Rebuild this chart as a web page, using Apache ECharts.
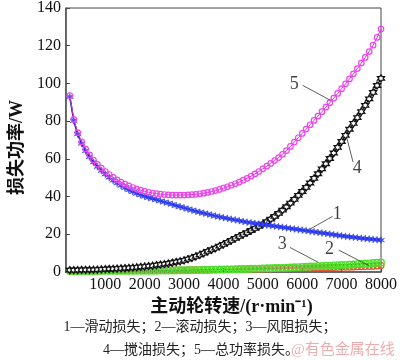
<!DOCTYPE html>
<html>
<head>
<meta charset="utf-8">
<script src="https://cdn.jsdelivr.net/npm/echarts@6/dist/echarts.min.js"></script>
<style>html,body{margin:0;padding:0;background:#fff;}#c{width:400px;height:361px;}</style>
</head>
<body>
<div id="c"></div>
<script>
// Rotational speed of driving wheel (r/min)
const speed = [100,200,300,400,500,600,700,800,900,1000,
  1100,1200,1300,1400,1500,1600,1700,1800,1900,2000,
  2100,2200,2300,2400,2500,2600,2700,2800,2900,3000,
  3100,3200,3300,3400,3500,3600,3700,3800,3900,4000,
  4100,4200,4300,4400,4500,4600,4700,4800,4900,5000,
  5100,5200,5300,5400,5500,5600,5700,5800,5900,6000,
  6100,6200,6300,6400,6500,6600,6700,6800,6900,7000,
  7100,7200,7300,7400,7500,7600,7700,7800,7900,8000];

// 1 — sliding loss
const slidingLoss = [92.9,80.2,73.1,68.1,64.2,61.0,58.2,55.8,53.7,51.8,
  50.1,48.5,47.1,45.8,44.6,43.5,42.5,41.6,40.8,40.1,
  39.4,38.9,38.3,37.7,37.1,36.5,35.9,35.2,34.6,34.0,
  33.4,32.8,32.2,31.7,31.2,30.7,30.2,29.7,29.2,28.8,
  28.4,28.0,27.6,27.2,26.8,26.4,26.1,25.8,25.5,25.2,
  24.9,24.6,24.3,24.0,23.7,23.4,23.1,22.8,22.5,22.2,
  21.9,21.6,21.3,21.0,20.7,20.4,20.1,19.8,19.5,19.2,
  18.9,18.7,18.4,18.2,17.9,17.7,17.5,17.3,17.1,16.9];

// 2 — rolling loss
const rollingLoss = [0.4,0.4,0.5,0.5,0.5,0.5,0.5,0.6,0.6,0.6,
  0.6,0.6,0.7,0.7,0.7,0.7,0.7,0.8,0.8,0.8,
  0.8,0.8,0.9,0.9,0.9,0.9,1.0,1.0,1.0,1.0,
  1.1,1.1,1.1,1.2,1.2,1.2,1.2,1.3,1.3,1.3,
  1.4,1.4,1.4,1.5,1.5,1.5,1.6,1.6,1.6,1.7,
  1.7,1.7,1.8,1.8,1.8,1.9,1.9,2.0,2.0,2.0,
  2.1,2.1,2.2,2.2,2.3,2.3,2.4,2.4,2.5,2.5,
  2.6,2.6,2.7,2.8,2.8,2.9,3.0,3.1,3.2,3.4];

// 3 — windage loss
const windageLoss = [0.5,0.5,0.5,0.5,0.5,0.5,0.5,0.5,0.6,0.6,
  0.6,0.6,0.6,0.6,0.7,0.7,0.7,0.7,0.7,0.7,
  0.7,0.7,0.7,0.8,0.8,0.8,0.8,0.8,0.9,0.9,
  0.9,1.0,1.0,1.0,1.1,1.1,1.2,1.2,1.3,1.3,
  1.4,1.4,1.5,1.5,1.6,1.6,1.7,1.8,1.8,1.9,
  2.0,2.0,2.1,2.2,2.2,2.3,2.4,2.5,2.6,2.7,
  2.8,2.9,3.0,3.1,3.2,3.3,3.4,3.5,3.6,3.7,
  3.8,3.9,4.0,4.2,4.3,4.5,4.6,4.8,4.9,5.1];

// 4 — oil churning loss
const churningLoss = [1.0,1.0,1.0,1.1,1.1,1.2,1.2,1.3,1.4,1.5,
  1.6,1.7,1.8,1.9,2.0,2.2,2.3,2.5,2.7,2.9,
  3.1,3.3,3.6,3.9,4.2,4.5,4.9,5.3,5.7,6.2,
  6.8,7.5,8.3,9.1,10.0,10.9,11.8,12.7,13.7,14.7,
  15.7,16.8,17.8,18.9,19.9,20.9,22.0,23.1,24.2,25.4,
  26.7,28.0,29.5,31.1,32.8,34.6,36.5,38.5,40.6,42.7,
  44.9,47.2,49.6,52.1,54.7,57.4,60.2,63.1,66.1,69.2,
  72.4,75.7,78.8,81.9,85.1,88.4,91.8,95.3,98.9,102.7];

// 5 — total power loss
const totalLoss = [93.6,80.9,73.9,69.0,65.2,62.1,59.4,57.1,55.1,53.3,
  51.7,50.2,48.9,47.7,46.6,45.7,44.8,44.0,43.4,42.8,
  42.3,41.9,41.6,41.3,41.1,40.9,40.8,40.8,40.8,40.8,
  40.9,41.0,41.2,41.5,41.8,42.2,42.7,43.2,43.8,44.5,
  45.2,46.0,46.8,47.7,48.7,49.7,50.8,52.0,53.3,54.7,
  56.1,57.6,59.1,60.7,62.4,64.4,66.6,68.9,71.2,73.5,
  75.8,78.1,80.4,82.7,85.0,87.4,89.8,92.2,94.7,97.2,
  99.8,102.4,105.1,107.9,110.8,113.8,116.9,120.3,124.4,128.8];

// curve number labels and their leader lines (data coordinates)
const annotLabels = ['1','2','3','4','5'];
const annotTextAt = [[6890,30.4],[6690,12.1],[5490,14.7],[7400,54.8],[5800,99.5]];
const annotLineFrom = [[6770,29.5],[6930,11.6],[5690,13.0],[7290,58.3],[6010,99.0]];
const annotLineTo = [[6210,22.9],[7690,3.4],[6410,5.1],[7130,71.3],[6720,91.0]];

const xName = '主动轮转速/(r·min⁻¹)';
const yName = '损失功率/W';
const captionLine1 = '1—滑动损失；2—滚动损失；3—风阻损失；';
const captionLine2 = '4—搅油损失；5—总功率损失。';
const watermark = '@有色金属在线';

const SERIF = '"Liberation Serif","Noto Sans CJK SC",serif';
const pair = arr => speed.map((s, i) => [s, arr[i]]);

const starPath = 'path://M0,-10 L1.5,-2.6 L8.66,-5 L3,0 L8.66,5 L1.5,2.6 L0,10 L-1.5,2.6 L-8.66,5 L-3,0 L-8.66,-5 L-1.5,-2.6 Z';
const hexStarPath = 'path://M0,-10 L2.9,-5 L8.66,-5 L5.8,0 L8.66,5 L2.9,5 L0,10 L-2.9,5 L-8.66,5 L-5.8,0 L-8.66,-5 L-2.9,-5 Z';

const series = [
  { name: '2', type: 'line', data: pair(rollingLoss), symbol: 'circle', symbolSize: 6,
    itemStyle: { color: 'rgba(255,255,255,0)', borderColor: '#e2553a', borderWidth: 1.2 },
    lineStyle: { color: '#d04030', width: 1 }, z: 2 },
  { name: '3', type: 'line', data: pair(windageLoss), symbol: 'circle', symbolSize: 6.5,
    itemStyle: { color: 'rgba(255,255,255,0)', borderColor: '#4ee02a', borderWidth: 1.4 },
    lineStyle: { color: '#3aa030', width: 1 }, z: 3 },
  { name: '4', type: 'line', data: pair(churningLoss), symbol: hexStarPath, symbolSize: 7,
    itemStyle: { color: '#ffffff', borderColor: '#111', borderWidth: 1.3 },
    lineStyle: { color: '#111', width: 1.2 }, z: 4 },
  { name: '1', type: 'line', data: pair(slidingLoss), symbol: starPath, symbolSize: 7,
    itemStyle: { color: '#3848ff', borderColor: '#2030e0', borderWidth: 0.5 },
    lineStyle: { color: '#1414c0', width: 1.6 }, z: 5 },
  { name: '5', type: 'line', data: pair(totalLoss), symbol: 'circle', symbolSize: 5.5,
    itemStyle: { color: 'rgba(255,255,255,0)', borderColor: '#ee44ee', borderWidth: 1.2 },
    lineStyle: { color: '#c838c8', width: 1 }, z: 6 }
];

annotLabels.forEach((t, i) => {
  series.push({ type: 'line', data: [annotLineFrom[i], annotLineTo[i]], symbol: 'none',
    lineStyle: { color: '#333', width: 0.8 }, silent: true, z: 7 });
});
series.push({ type: 'scatter', symbolSize: 0, silent: true, z: 8,
  data: annotLabels.map((t, i) => [annotTextAt[i][0], annotTextAt[i][1], t]),
  label: { show: true, position: 'inside', formatter: p => p.data[2],
    fontFamily: SERIF, fontSize: 18, color: '#111' } });

const chart = echarts.init(document.getElementById('c'), null, { renderer: 'canvas' });
chart.setOption({
  animation: false,
  backgroundColor: '#fff',
  grid: { left: 50, right: 17, top: 4, bottom: 89, show: true, borderColor: '#444', borderWidth: 1 },
  xAxis: {
    type: 'value', min: 0, max: 8000, interval: 1000,
    name: xName, nameLocation: 'middle', nameGap: 25,
    nameTextStyle: { fontFamily: SERIF, fontSize: 18, fontWeight: 'bold', color: '#111', padding: [0, 0, 0, 16] },
    axisLine: { show: true, lineStyle: { color: '#555', width: 1.5 } },
    axisTick: { show: true, inside: true, length: 4, lineStyle: { color: '#444' } },
    axisLabel: { showMinLabel: false, margin: 5, fontFamily: SERIF, fontSize: 16, color: '#111',
      formatter: v => String(v) },
    splitLine: { show: false }
  },
  yAxis: {
    type: 'value', min: 0, max: 140, interval: 20,
    name: yName, nameLocation: 'middle', nameGap: 32,
    nameTextStyle: { fontFamily: SERIF, fontSize: 18, fontWeight: 'bold', color: '#111', padding: [0, 15, 0, 0] },
    axisLine: { show: true, lineStyle: { color: '#555', width: 1.5 } },
    axisTick: { show: true, inside: true, length: 4, lineStyle: { color: '#444' } },
    axisLabel: { margin: 5, fontFamily: SERIF, fontSize: 16, color: '#111', formatter: v => String(v) },
    splitLine: { show: false }
  },
  graphic: [
    { type: 'text', left: 'center', top: 320, style: { text: captionLine1, font: '14px ' + SERIF, fill: '#222' } },
    { type: 'text', left: 103, top: 343, style: { text: captionLine2, font: '14px ' + SERIF, fill: '#222' } },
    { type: 'text', left: 291, top: 343, style: { text: watermark, font: '15px ' + SERIF, fill: 'rgba(225,90,90,0.5)' } }
  ],
  series: series
});
</script>
</body>
</html>
